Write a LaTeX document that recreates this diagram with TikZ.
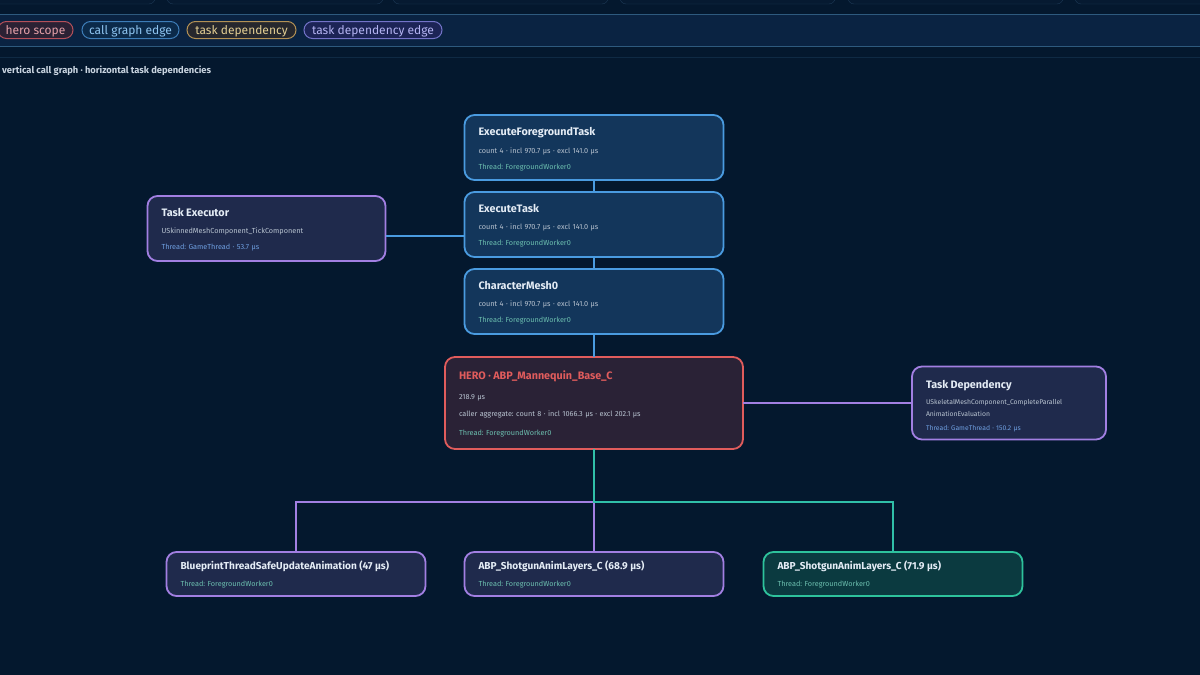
\documentclass[tikz,border=0pt]{standalone}
\usepackage{fontspec}
\setmainfont{Fira Sans}
\usepackage{tikz}
\usetikzlibrary{positioning, calc}
\definecolor{bgnavy}{HTML}{04182E}
\definecolor{bandnavy}{HTML}{0A2342}
\definecolor{bandline}{HTML}{2E5A7E}
\definecolor{faintline}{HTML}{0F2A44}
\definecolor{cardtop}{HTML}{061A31}
\definecolor{cardedge}{HTML}{1D3A56}
\definecolor{callblue}{HTML}{4A9BE0}
\definecolor{callfill}{HTML}{13365B}
\definecolor{deppurple}{HTML}{A27FE2}
\definecolor{depfill}{HTML}{1F2A4C}
\definecolor{herored}{HTML}{E05C5C}
\definecolor{herofill}{HTML}{2A2236}
\definecolor{kidteal}{HTML}{2EC29C}
\definecolor{kidfill}{HTML}{0B3A40}
\definecolor{edgeteal}{HTML}{30BFA8}
\definecolor{titletext}{HTML}{E4ECF5}
\definecolor{detailtext}{HTML}{B8C3D0}
\definecolor{threadteal}{HTML}{6CBFAF}
\definecolor{threadblue}{HTML}{6E9EDF}
\definecolor{subtext}{HTML}{C9D4E0}
\definecolor{herochip}{HTML}{2B2134}
\definecolor{herochipedge}{HTML}{B4505A}
\definecolor{herochiptext}{HTML}{E4A0A8}
\definecolor{callchip}{HTML}{0B2A4A}
\definecolor{callchipedge}{HTML}{3D7DB8}
\definecolor{callchiptext}{HTML}{8EC4F0}
\definecolor{taskchip}{HTML}{26272D}
\definecolor{taskchipedge}{HTML}{B39155}
\definecolor{taskchiptext}{HTML}{E3CE93}
\definecolor{edgechip}{HTML}{1C2456}
\definecolor{edgechipedge}{HTML}{7373C8}
\definecolor{edgechiptext}{HTML}{B4B4F2}
\newcommand\cardtitle{\fontsize{10.8}{8}\selectfont\bfseries\color{titletext}\rule{0pt}{11.5pt}}
\newcommand\kidtitle{\fontsize{10.1}{8}\selectfont\bfseries\color{titletext}}

\begin{document}
\begin{tikzpicture}[
    x=1pt, y=-1pt,
    card/.style={rectangle, rounded corners=10pt, line width=1.8pt, inner xsep=14pt, inner ysep=0pt, outer sep=0pt, align=left, font=\fontsize{7.3}{8}\selectfont\frenchspacing, text=detailtext},
    callbox/.style={card, draw=callblue, fill=callfill, text width=231pt, minimum height=65pt},
    depbox/.style={card, draw=deppurple, fill=depfill},
    herobox/.style={card, draw=herored, fill=herofill, text width=270pt, minimum height=92pt},
    kidbox/.style={card, draw=kidteal, fill=kidfill, text width=231pt, minimum height=44pt},
    chipbox/.style={rectangle, rounded corners=8.5pt, line width=1pt, minimum height=17pt, text height=10pt, text depth=0.5pt, inner xsep=0pt, inner ysep=0pt, outer sep=0pt, font=\fontsize{12}{13}\selectfont},
    calledge/.style={draw=callblue, line width=2pt},
    depedge/.style={draw=deppurple, line width=2pt},
    tealedge/.style={draw=edgeteal, line width=2pt},
    node distance=12pt,
  ]
  \path[fill=bgnavy, use as bounding box] (0,0) rectangle (1200,675);

  % Header strip
  \foreach \l/\r in {-20/155, 167/383, 393/608, 620/835, 848/1063, 1075/1220}
    \draw[cardedge, fill=cardtop, rounded corners=6pt] (\l,-20) rectangle (\r,4);
  \fill[bandnavy] (0,14) rectangle (1200,46);
  \draw[bandline] (0,14) -- (1200,14);
  \draw[bandline] (0,46) -- (1200,46);
  \draw[faintline] (0,57) -- (1200,57);

  % Legend chips
  \node[chipbox, draw=herochipedge, fill=herochip, text=herochiptext, minimum width=75pt, anchor=west] (chero) at (-2,30) {hero scope};
  \node[chipbox, draw=callchipedge, fill=callchip, text=callchiptext, minimum width=97pt, right=9pt of chero] (ccall) {call graph edge};
  \node[chipbox, draw=taskchipedge, fill=taskchip, text=taskchiptext, minimum width=109pt, right=8pt of ccall] (ctask) {task dependency};
  \node[chipbox, draw=edgechipedge, fill=edgechip, text=edgechiptext, minimum width=138pt, right=8pt of ctask] (cedge) {task dependency edge};
  \node[font=\fontsize{9.35}{10}\selectfont\bfseries, text=subtext, anchor=west, inner sep=0pt] (sub) at (2,71) {vertical call graph · horizontal task dependencies};

  % Call chain
  \node[callbox] (eft) at (594,147.5) {{\cardtitle ExecuteForegroundTask}\\[9pt]
    count 4 · incl 970.7 µs · excl 141.0 µs\\[8pt]
    {\color{threadteal}Thread: ForegroundWorker0}};
  \node[callbox, below=of eft] (et) {{\cardtitle ExecuteTask}\\[9pt]
    count 4 · incl 970.7 µs · excl 141.0 µs\\[8pt]
    {\color{threadteal}Thread: ForegroundWorker0}};
  \node[callbox, below=of et] (cm) {{\cardtitle CharacterMesh0}\\[9pt]
    count 4 · incl 970.7 µs · excl 141.0 µs\\[8pt]
    {\color{threadteal}Thread: ForegroundWorker0}};
  \node[herobox, below=23pt of cm] (hero) {{\cardtitle\color{herored}HERO · ABP\_Mannequin\_Base\_C}\\[12pt]
    218.9 µs\\[9pt]
    caller aggregate: count 8 · incl 1066.3 µs · excl 202.1 µs\\[11pt]
    {\color{threadteal}Thread: ForegroundWorker0}};

  % Task side
  \node[depbox, text width=210pt, minimum height=65pt, left=79pt of et, yshift=-4pt] (te) {{\cardtitle Task Executor}\\[9pt]
    USkinnedMeshComponent\_TickComponent\\[8pt]
    {\color{threadblue}Thread: GameThread · 53.7 µs}};
  \node[depbox, text width=166pt, minimum height=73pt, right=169pt of hero, font=\fontsize{6.8}{8}\selectfont\frenchspacing] (td) {{\cardtitle\rule{0pt}{14pt}Task Dependency}\\[8pt]
    USkeletalMeshComponent\_CompleteParallel\\[4pt]
    AnimationEvaluation\\[6pt]
    {\color{threadblue}Thread: GameThread · 150.2 µs}};

  % Children
  \node[depbox, text width=231pt, minimum height=44pt, below=103pt of hero] (shot1) {{\kidtitle ABP\_ShotgunAnimLayers\_C (68.9 µs)}\\[9pt]
    {\color{threadteal}Thread: ForegroundWorker0}};
  \node[depbox, text width=231pt, minimum height=44pt, left=39pt of shot1] (bp) {{\kidtitle BlueprintThreadSafeUpdateAnimation (47 µs)}\\[9pt]
    {\color{threadteal}Thread: ForegroundWorker0}};
  \node[kidbox, right=40pt of shot1] (shot2) {{\kidtitle ABP\_ShotgunAnimLayers\_C (71.9 µs)}\\[9pt]
    {\color{threadteal}Thread: ForegroundWorker0}};

  % Call graph edges
  \draw[calledge] (eft) -- (et);
  \draw[calledge] (et) -- (cm);
  \draw[calledge] (cm) -- (hero);
  \draw[calledge] ([yshift=-7.5pt]te.east) -- ([yshift=-7.5pt]te.east -| et.west);

  % Task dependency edges
  \draw[depedge] (hero) -- (td);
  \coordinate[below=53pt of hero.south] (fork);
  \draw[depedge] (fork) -| (bp);
  \draw[depedge] (fork) -- (shot1);
  \draw[tealedge] (hero) -- (fork) -| (shot2);
\end{tikzpicture}
\end{document}
